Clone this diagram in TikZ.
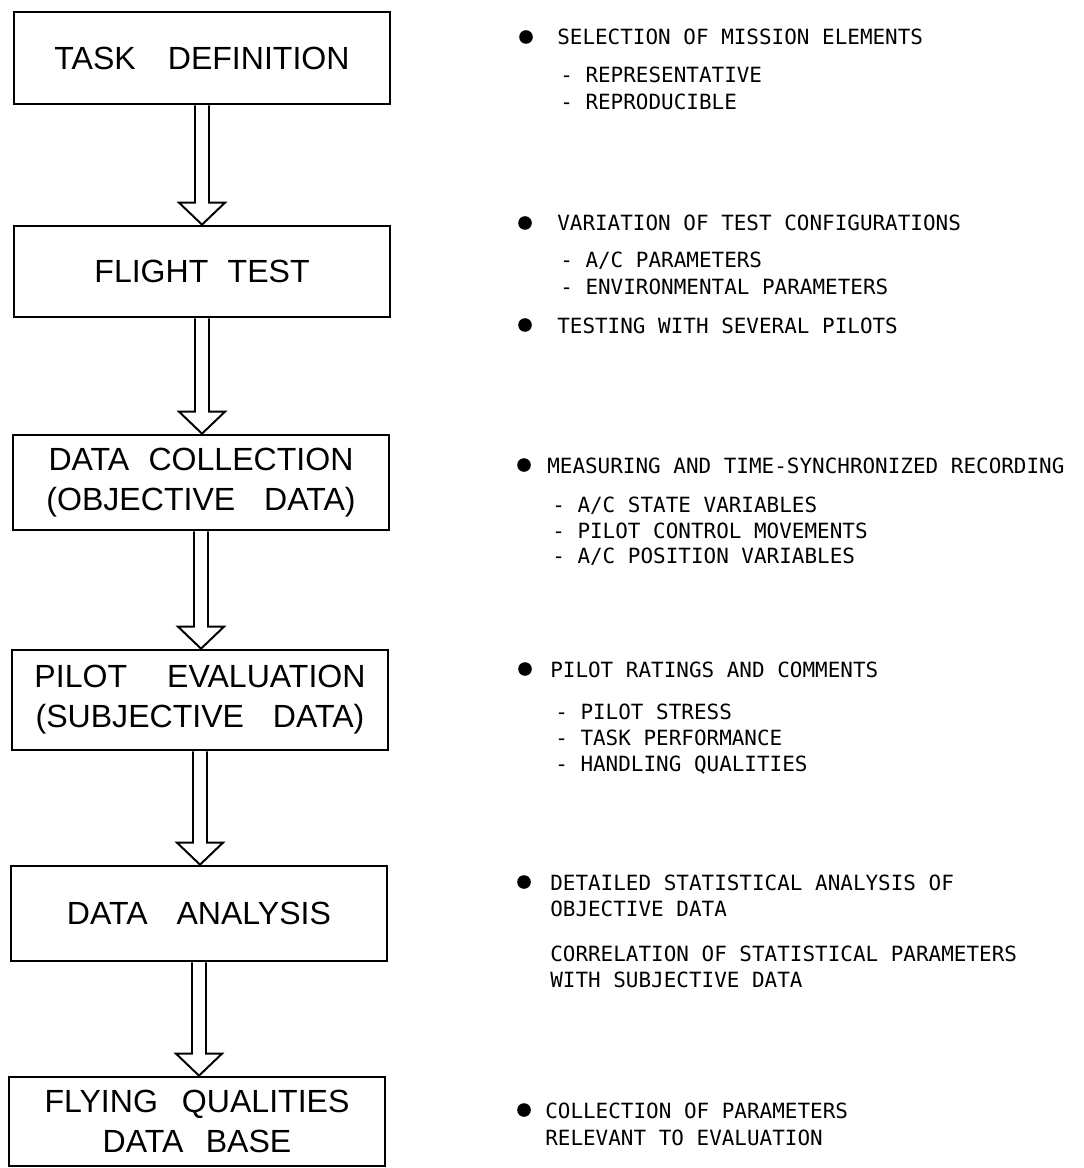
\documentclass[tikz,border=0pt]{standalone}
\usepackage{fontspec}
\setsansfont{Liberation Sans}
\newfontfamily\typewriter{DejaVu Sans Mono}
\usetikzlibrary{calc}

\newcommand{\wgap}[1]{\hspace{#1em}}
% hollow block arrow from the bottom of one stage to the top of the next
\newcommand{\flowarrow}[2]{%
	\coordinate (tip) at (#1.south |- #2.north);
	\draw[hollow] ($(#1.south)+(-7,0)$) -- ($(tip)+(-7,-22)$) -- ($(tip)+(-23,-22)$) -- (tip)
		-- ($(tip)+(23,-22)$) -- ($(tip)+(7,-22)$) -- ($(#1.south)+(7,0)$);
}

\tikzset{
	stage/.style={draw, line width=1.9pt, minimum width=9.4cm, inner sep=0pt, align=center,
		font=\sffamily\fontsize{22.8}{28.5}\selectfont},
	hollow/.style={line width=1.4pt, line join=miter},
	remark/.style={anchor=base west, inner sep=0pt, font=\typewriter\fontsize{14.9}{19}\selectfont},
	bulletdot/.style={circle, fill=black, inner sep=0pt, minimum size=0.34cm}
}

\begin{document}
\begin{tikzpicture}[x=0.025cm, y=-0.025cm]
	\useasboundingbox (0,0) rectangle (1083,1168);
	
	% flow of stages
	\node[stage, minimum height=2.3cm] (task) at (202,58) {TASK\wgap{1}DEFINITION};
	\node[stage, minimum height=2.275cm] (flight) at (202,271.5) {FLIGHT\wgap{0.6}TEST};
	\node[stage, minimum height=2.375cm] (collect) at (201,482.5) {DATA\wgap{0.6}COLLECTION\\(OBJECTIVE\wgap{0.9}DATA)};
	\node[stage, minimum height=2.5cm] (pilot) at (200,700) {PILOT\wgap{1.25}EVALUATION\\(SUBJECTIVE\wgap{0.9}DATA)};
	\node[stage, minimum height=2.375cm] (analysis) at (199,913.5) {DATA\wgap{0.9}ANALYSIS};
	\node[stage, minimum height=2.225cm] (base) at (197,1121.5) {FLYING\wgap{0.75}QUALITIES\\DATA\wgap{0.7}BASE};
	
	\flowarrow{task}{flight}
	\flowarrow{flight}{collect}
	\flowarrow{collect}{pilot}
	\flowarrow{pilot}{analysis}
	\flowarrow{analysis}{base}
	
	% remarks on the right
	\node[bulletdot] (d1) at (526,37) {};
	\node[remark] (r1) at (557,45) {SELECTION OF MISSION ELEMENTS};
	\node[remark] (r1a) at (560,83) {-~REPRESENTATIVE};
	\node[remark] (r1b) at (560,110) {-~REPRODUCIBLE};
	
	\node[bulletdot] (d2) at (525,223) {};
	\node[remark] (r2) at (557,231) {VARIATION OF TEST CONFIGURATIONS};
	\node[remark] (r2a) at (560,268) {-~A/C PARAMETERS};
	\node[remark] (r2b) at (560,295) {-~ENVIRONMENTAL PARAMETERS};
	\node[bulletdot] (d3) at (525,325) {};
	\node[remark] (r3) at (557,333) {TESTING WITH SEVERAL PILOTS};
	
	\node[bulletdot] (d4) at (524,465) {};
	\node[remark] (r4) at (547,473) {MEASURING AND TIME-SYNCHRONIZED RECORDING};
	\node[remark] (r4a) at (552,512) {-~A/C STATE VARIABLES};
	\node[remark] (r4b) at (552,538) {-~PILOT CONTROL MOVEMENTS};
	\node[remark] (r4c) at (552,563) {-~A/C POSITION VARIABLES};
	
	\node[bulletdot] (d5) at (525,669) {};
	\node[remark] (r5) at (550,677) {PILOT RATINGS AND COMMENTS};
	\node[remark] (r5a) at (555,719) {-~PILOT STRESS};
	\node[remark] (r5b) at (555,745) {-~TASK PERFORMANCE};
	\node[remark] (r5c) at (555,771) {-~HANDLING QUALITIES};
	
	\node[bulletdot] (d6) at (524,882) {};
	\node[remark] (r6) at (550,890) {DETAILED STATISTICAL ANALYSIS OF};
	\node[remark] (r6b) at (550,916) {OBJECTIVE DATA};
	\node[remark] (r7) at (550,961) {CORRELATION OF STATISTICAL PARAMETERS};
	\node[remark] (r7b) at (550,987) {WITH SUBJECTIVE DATA};
	
	\node[bulletdot] (d8) at (524,1110) {};
	\node[remark] (r8) at (545,1118) {COLLECTION OF PARAMETERS};
	\node[remark] (r8b) at (545,1145) {RELEVANT TO EVALUATION};
\end{tikzpicture}
\end{document}
